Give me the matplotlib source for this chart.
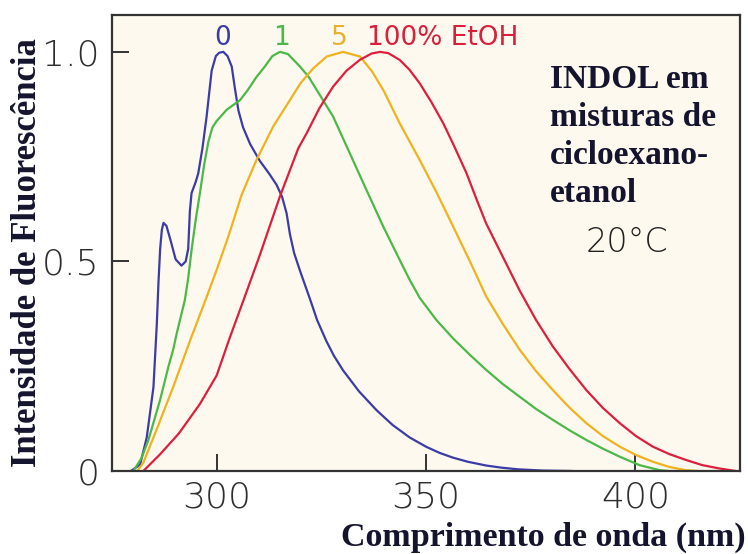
import matplotlib
matplotlib.use('Agg')
import matplotlib.pyplot as plt
import numpy as np

# Fluorescencia do indol em misturas cicloexano-etanol, 20 C
# curva "0" (cicloexano puro)
wl_0 = [279.5, 281.7, 283.3, 284.9, 285.7, 286.1, 286.5, 286.9, 287.3, 288.0, 289.0, 290.2, 291.6,
        292.6, 293.2, 293.6, 294.0, 295.0, 295.6, 296.6, 297.6, 298.8, 299.8, 300.6, 301.6, 302.6,
        303.6, 304.4, 305.2, 306.3, 308.0, 310.3, 312.5, 314.3, 315.6, 316.7, 317.5, 318.5, 320.0,
        322.3, 324.0, 326.2, 328.0, 330.2, 334.0, 338.2, 342.0, 346.1, 350.0, 353.3, 356.4, 360.0,
        364.4, 368.0, 372.0, 378.0, 385.0]
int_0 = [0.0, 0.015, 0.08, 0.2, 0.35, 0.45, 0.53, 0.575, 0.592, 0.585, 0.55, 0.505, 0.49,
         0.5, 0.53, 0.62, 0.663, 0.69, 0.71, 0.77, 0.846, 0.955, 0.99, 0.998, 1.0, 0.99,
         0.965, 0.91, 0.86, 0.82, 0.78, 0.74, 0.71, 0.683, 0.655, 0.615, 0.565, 0.52, 0.475,
         0.41, 0.36, 0.31, 0.275, 0.24, 0.19, 0.145, 0.11, 0.08, 0.058, 0.043, 0.032, 0.022,
         0.013, 0.008, 0.004, 0.001, 0.0]

# curva "1"
wl_1 = [280.1, 282.0, 283.7, 286.5, 288.5, 289.6, 290.5, 292.4, 293.2, 294.0, 295.0, 296.0, 297.0,
        298.0, 299.0, 300.0, 302.4, 305.6, 307.5, 309.5, 311.5, 313.3, 315.1, 317.0, 319.9, 322.0,
        323.9, 327.8, 331.8, 335.8, 339.8, 343.7, 346.0, 348.5, 352.5, 356.5, 360.5, 364.4, 368.4,
        372.4, 376.3, 380.3, 384.3, 388.3, 392.3, 396.3, 401.0, 405.8, 408.0]
int_1 = [0.0, 0.03, 0.074, 0.17, 0.25, 0.289, 0.33, 0.408, 0.46, 0.527, 0.6, 0.663, 0.73,
         0.785, 0.82, 0.835, 0.862, 0.885, 0.91, 0.94, 0.965, 0.99, 1.0, 0.995, 0.965, 0.94,
         0.909, 0.846, 0.758, 0.67, 0.583, 0.504, 0.458, 0.413, 0.36, 0.316, 0.277, 0.241, 0.207,
         0.177, 0.148, 0.122, 0.097, 0.074, 0.053, 0.034, 0.014, 0.002, 0.0]

# curva "5"
wl_5 = [281.0, 282.5, 285.7, 289.6, 293.6, 297.6, 300.0, 302.8, 306.0, 309.5, 313.5, 317.5, 320.0,
        323.0, 326.3, 330.2, 334.2, 337.0, 339.8, 343.7, 348.5, 352.5, 356.5, 360.5, 364.4, 368.4,
        372.4, 376.3, 380.3, 384.3, 388.3, 392.3, 396.3, 400.2, 404.2, 408.0, 412.0, 415.0]
int_5 = [0.0, 0.02, 0.1, 0.2, 0.31, 0.415, 0.48, 0.56, 0.66, 0.742, 0.822, 0.885, 0.925,
         0.96, 0.989, 1.0, 0.989, 0.955, 0.909, 0.83, 0.742, 0.665, 0.583, 0.5, 0.416, 0.35,
         0.289, 0.238, 0.193, 0.151, 0.114, 0.083, 0.058, 0.038, 0.022, 0.01, 0.002, 0.0]

# curva "100% EtOH"
wl_100 = [282.5, 286.5, 291.0, 296.0, 300.0, 303.2, 306.5, 310.3, 315.1, 319.5, 321.5, 324.5, 327.8,
          331.0, 334.2, 337.0, 339.0, 341.0, 343.7, 346.0, 348.5, 351.3, 354.1, 356.5, 359.7, 362.0,
          364.4, 368.4, 372.4, 376.3, 380.3, 384.3, 388.3, 392.3, 396.3, 400.2, 404.2, 408.2, 412.2,
          416.0, 420.1, 424.0]
int_100 = [0.0, 0.04, 0.09, 0.16, 0.228, 0.32, 0.41, 0.515, 0.655, 0.77, 0.806, 0.865, 0.917,
           0.955, 0.981, 0.996, 1.0, 0.997, 0.981, 0.958, 0.925, 0.88, 0.83, 0.78, 0.71, 0.65,
           0.59, 0.51, 0.43, 0.36, 0.297, 0.243, 0.193, 0.15, 0.114, 0.083, 0.058, 0.04, 0.026,
           0.014, 0.006, 0.0]

series = [(wl_0, int_0, '#3b3ca6'), (wl_1, int_1, '#4cb848'),
          (wl_5, int_5, '#f0b21e'), (wl_100, int_100, '#dc1f3c')]

curve_labels = ['0', '1', '5', '100% EtOH']
label_x = [301.5, 315.5, 329.4, 335.8]
label_colors = ['#3b3ca6', '#4cb848', '#e8b030', '#d8203a']

xticks = [300, 350, 400]
yticks = [0, 0.5, 1.0]
yticklabels = ['0', '0.5', '1.0']

fig = plt.figure(figsize=(7.48, 5.54), dpi=100)
fig.patch.set_facecolor('white')
ax = fig.add_axes([112 / 748, 1 - 471 / 554, 628 / 748, 456 / 554])
ax.set_facecolor('#fdf9ee')

for wl, inten, c in series:
    ax.plot(wl, inten, color=c, lw=1.6, solid_joinstyle='round', solid_capstyle='round')

ax.set_xlim(275, 425)
ax.set_ylim(0, 1.088)

tick_font = dict(family='DejaVu Sans', fontsize=26, color='#2e2e2e', fontweight='light')
ax.set_xticks(xticks)
ax.set_xticklabels([str(t) for t in xticks], **tick_font)
ax.set_yticks(yticks)
ax.set_yticklabels(yticklabels, **tick_font)
ax.tick_params(axis='both', direction='in', length=12, width=1.4, color='#333333')
ax.tick_params(axis='x', pad=7)
ax.tick_params(axis='y', pad=9)
for s in ax.spines.values():
    s.set_color('#333333')
    s.set_linewidth(1.6)

# rotulos das curvas
for lab, lx, lc in zip(curve_labels, label_x, label_colors):
    ha = 'left' if lab.startswith('100') else 'center'
    ax.text(lx, 1.033, lab, color=lc, fontsize=19, ha=ha, va='center', family='DejaVu Sans')

def px(x, y):
    return x / 748, 1 - y / 554

serif = dict(family='Liberation Serif', fontweight='bold', color='#14142e')
note_lines = ['INDOL em', 'misturas de', 'cicloexano-', 'etanol']
for i, line in enumerate(note_lines):
    fig.text(*px(550, 88 + 38 * i), line, fontsize=24, ha='left', va='baseline', **serif)
fig.text(*px(627, 243), '20°C', fontsize=24, ha='center', va='center',
         family='DejaVu Sans', color='#222222', fontweight='light')

fig.text(*px(28, 253), 'Intensidade de Fluorescência', rotation=90, fontsize=25,
         ha='center', va='center', **serif)
fig.text(*px(543, 537), 'Comprimento de onda (nm)', fontsize=24.5,
         ha='center', va='center', **serif)

plt.savefig('out.png', dpi=100)
